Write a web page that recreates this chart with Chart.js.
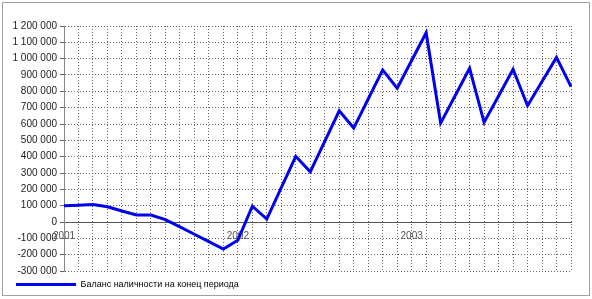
<!DOCTYPE html>
<html>
<head>
<meta charset="utf-8">
<script src="https://cdn.jsdelivr.net/npm/chart.js@4/dist/chart.umd.min.js"></script>
<style>
  html, body { margin: 0; padding: 0; background: #fff; }
  #wrap { width: 592px; height: 299px; }
</style>
</head>
<body>
<div id="wrap"><canvas id="chart" width="592" height="299"></canvas></div>
<script>
// monthly periods, Jan 2001 .. Dec 2003
const periods = [
  '2001-01','2001-02','2001-03','2001-04','2001-05','2001-06','2001-07','2001-08','2001-09','2001-10','2001-11','2001-12',
  '2002-01','2002-02','2002-03','2002-04','2002-05','2002-06','2002-07','2002-08','2002-09','2002-10','2002-11','2002-12',
  '2003-01','2003-02','2003-03','2003-04','2003-05','2003-06','2003-07','2003-08','2003-09','2003-10','2003-11','2003-12'
];
const yearLabels = ['2001', '2002', '2003'];

const seriesName = 'Баланс наличности на конец периода';
const balance = [
  100000, 103000, 107000, 93000, 67000, 43000, 43000, 15000, -30000, -75000, -120000, -166000,
  -112000, 97000, 18000, 210000, 402000, 307000, 494000, 681000, 575000, 753000, 931000, 819000,
  989000, 1159000, 605000, 773000, 941000, 610000, 772000, 935000, 712000, 860000, 1008000, 829000
];

const yMin = -300000;
const yMax = 1200000;
const yStep = 100000;

function fmt(v) {
  if (v === 0) return '0';
  const s = String(Math.abs(v)).replace(/\B(?=(\d{3})+(?!\d))/g, ' ');
  return (v < 0 ? '-' : '') + s;
}

const frame = {
  id: 'frame',
  beforeDraw(chart) {
    const ctx = chart.ctx;
    ctx.save();
    ctx.fillStyle = '#fff';
    ctx.fillRect(0, 0, chart.width, chart.height);
    ctx.strokeStyle = '#a0a0a0';
    ctx.lineWidth = 1;
    ctx.strokeRect(2.5, 2.5, 587, 293);
    ctx.restore();
  }
};

const font = { family: '"Liberation Sans", Arial, sans-serif', size: 10 };

new Chart(document.getElementById('chart'), {
  type: 'line',
  data: {
    labels: periods,
    datasets: [{
      label: seriesName,
      data: balance,
      borderColor: '#0000ee',
      backgroundColor: '#0000ee',
      borderWidth: 3,
      pointRadius: 0,
      tension: 0,
      fill: false
    }]
  },
  options: {
    responsive: false,
    animation: false,
    layout: { padding: { left: 7, right: 21, top: 26, bottom: 0 } },
    plugins: {
      tooltip: { enabled: false },
      legend: {
        position: 'bottom',
        align: 'start',
        labels: {
          usePointStyle: true,
          pointStyle: 'line',
          pointStyleWidth: 60,
          padding: 9,
          color: '#000',
          font: { family: font.family, size: 9, lineHeight: 1 }
        }
      }
    },
    scales: {
      x: {
        position: { y: 0 },
        grid: { color: '#666', drawTicks: false },
        border: { color: '#555', width: 1, dash: [1, 2] },
        ticks: {
          autoSkip: false,
          maxRotation: 0,
          padding: 8,
          color: '#555',
          font: font,
          callback: function (v, i) {
            const p = periods[i];
            return p.endsWith('-01') ? yearLabels[i / 12] : '';
          }
        }
      },
      y: {
        min: yMin,
        max: yMax,
        afterFit(scale) { scale.width = 57; },
        grid: { color: '#666', tickLength: 4 },
        border: { color: '#888', width: 1, dash: [1, 2] },
        ticks: {
          stepSize: yStep,
          padding: 3,
          color: '#222',
          font: font,
          callback: v => fmt(v)
        }
      }
    }
  },
  plugins: [frame]
});
</script>
</body>
</html>
